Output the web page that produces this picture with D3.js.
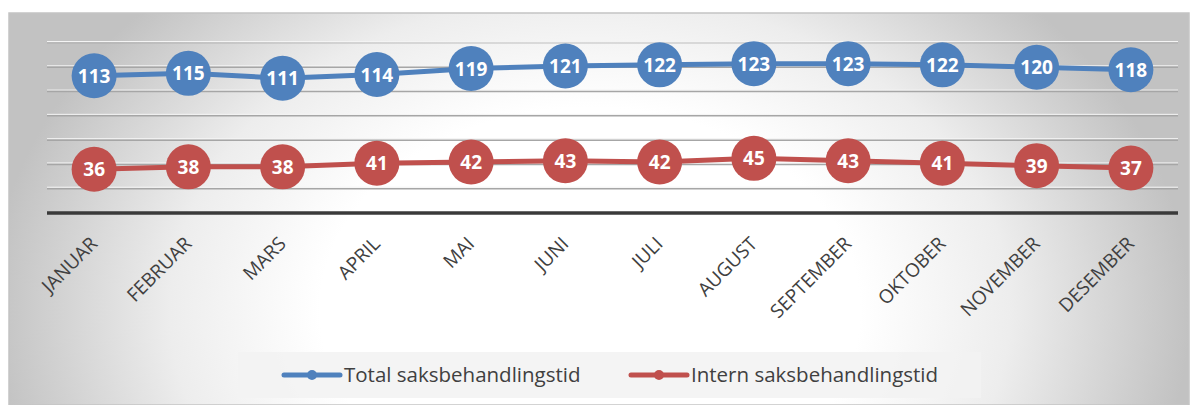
<!DOCTYPE html>
<html>
<head>
<meta charset="utf-8">
<script src="https://cdn.jsdelivr.net/npm/d3@7"></script>
<style>
  body { margin: 0; background: #fff; }
  svg { display: block; }
</style>
</head>
<body>
<svg id="chart" width="1195" height="405"></svg>
<script>
// data
var months = ["JANUAR", "FEBRUAR", "MARS", "APRIL", "MAI", "JUNI", "JULI",
              "AUGUST", "SEPTEMBER", "OKTOBER", "NOVEMBER", "DESEMBER"];
var totalTid = [113, 115, 111, 114, 119, 121, 122, 123, 123, 122, 120, 118];
var internTid = [36, 38, 38, 41, 42, 43, 42, 45, 43, 41, 39, 37];
var seriesNames = ["Total saksbehandlingstid", "Intern saksbehandlingstid"];
var gridTicks = [20, 40, 60, 80, 100, 120, 140];

var svg = d3.select("#chart");

// background gradient, white towards the bottom middle
var defs = svg.append("defs");
var grad = defs.append("radialGradient")
    .attr("id", "bg")
    .attr("gradientUnits", "userSpaceOnUse")
    .attr("cx", 590).attr("cy", 310)
    .attr("r", 600)
    .attr("gradientTransform", "translate(590,310) scale(1,0.75) translate(-590,-310)");
grad.append("stop").attr("offset", "0%").attr("stop-color", "#ffffff");
grad.append("stop").attr("offset", "45%").attr("stop-color", "#ffffff");
grad.append("stop").attr("offset", "70%").attr("stop-color", "#ededed");
grad.append("stop").attr("offset", "100%").attr("stop-color", "#c2c2c2");

svg.append("rect")
    .attr("x", 9).attr("y", 13)
    .attr("width", 1180).attr("height", 392)
    .attr("fill", "url(#bg)")
    .attr("stroke", "#c4c4c4").attr("stroke-width", 1.5);

var x = d3.scalePoint()
    .domain(months)
    .range([47, 1178])
    .padding(0.5);

var y = d3.scaleLinear()
    .domain([0, 140])
    .range([213, 43]);

// gridlines
var grid = svg.append("g");
grid.selectAll("line.hl")
    .data(gridTicks)
    .join("line")
    .attr("class", "hl")
    .attr("x1", 47).attr("x2", 1178)
    .attr("y1", function(d) { return y(d) - 1.5; })
    .attr("y2", function(d) { return y(d) - 1.5; })
    .attr("stroke", "#f4f4f4")
    .attr("stroke-width", 1);
grid.selectAll("line.gl")
    .data(gridTicks)
    .join("line")
    .attr("class", "gl")
    .attr("x1", 47).attr("x2", 1178)
    .attr("y1", function(d) { return y(d); })
    .attr("y2", function(d) { return y(d); })
    .attr("stroke", "#a6a6a6")
    .attr("stroke-width", 1.5)
    .attr("opacity", function(d) { return d == 140 ? 0.45 : 1; });

// x axis
var xAxis = svg.append("g")
    .attr("transform", "translate(0," + y(0) + ")")
    .call(d3.axisBottom(x).tickSize(0).tickPadding(0));
xAxis.select(".domain").remove();
xAxis.insert("line", ":first-child")
    .attr("x1", 47).attr("x2", 1178)
    .attr("stroke", "#3a3a3a").attr("stroke-width", 3.5);
xAxis.selectAll(".tick text")
    .attr("font-family", "'Open Sans', sans-serif")
    .attr("font-size", 19)
    .attr("fill", "#404040")
    .attr("text-anchor", "end")
    .attr("dy", 0)
    .attr("transform", "translate(4,32) rotate(-45)");

var colors = ["#4f81bd", "#c0504d"];
var series = [totalTid, internTid];

var line = d3.line()
    .x(function(d, i) { return x(months[i]); })
    .y(function(d) { return y(d); });

series.forEach(function(vals, s) {
    var g = svg.append("g");
    g.append("path")
        .datum(vals)
        .attr("d", line)
        .attr("fill", "none")
        .attr("stroke", colors[s])
        .attr("stroke-width", 5);
    var pts = g.selectAll("g.pt")
        .data(vals)
        .join("g")
        .attr("class", "pt")
        .attr("transform", function(d, i) {
            return "translate(" + x(months[i]) + "," + y(d) + ")";
        });
    pts.append("circle")
        .attr("r", 22.5)
        .attr("fill", colors[s]);
    pts.append("text")
        .attr("text-anchor", "middle")
        .attr("dy", "0.37em")
        .attr("font-family", "'Open Sans', sans-serif")
        .attr("font-weight", "bold")
        .attr("font-size", 19)
        .attr("fill", "#fff")
        .text(function(d) { return d; });
});

// legend
var legend = svg.append("g");
legend.append("rect")
    .attr("x", 238).attr("y", 352)
    .attr("width", 743).attr("height", 46)
    .attr("fill", "#f2f2f2").attr("opacity", 0.85);
var legX = [284, 631];
seriesNames.forEach(function(name, s) {
    var lg = legend.append("g").attr("transform", "translate(" + legX[s] + ",375)");
    lg.append("line")
        .attr("x1", 0).attr("x2", 56)
        .attr("stroke", colors[s]).attr("stroke-width", 5)
        .attr("stroke-linecap", "round");
    lg.append("circle").attr("cx", 28).attr("r", 5).attr("fill", colors[s]);
    lg.append("text")
        .attr("x", 60).attr("dy", "0.35em")
        .attr("font-family", "'Open Sans', sans-serif")
        .attr("font-size", 20.5)
        .attr("fill", "#404040")
        .text(name);
});
</script>
</body>
</html>
